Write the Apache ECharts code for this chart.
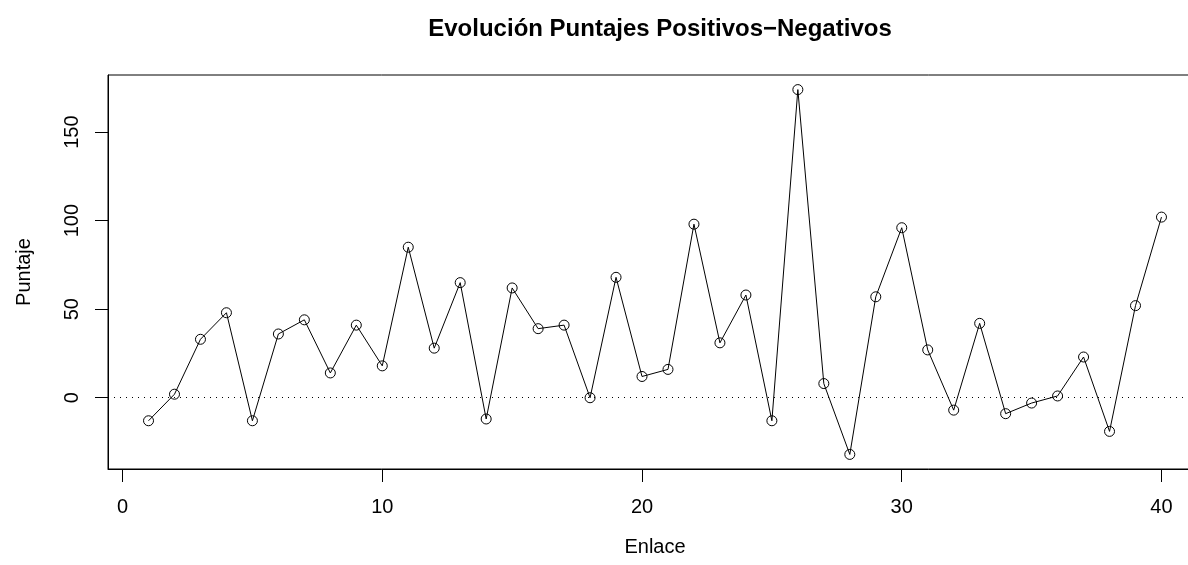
<!DOCTYPE html>
<html>
<head>
<meta charset="utf-8">
<title>Evolución Puntajes Positivos−Negativos</title>
<script src="https://cdn.jsdelivr.net/npm/echarts@6/dist/echarts.min.js"></script>
<style>
  html, body { margin: 0; padding: 0; background: #fff; overflow: hidden; }
  /* the plot box runs a little past the right edge of the window */
  #chart { width: 1202px; height: 565px; }
</style>
</head>
<body>
<div id="chart"></div>
<script>
// Link index (Enlace) and its positive-minus-negative score (Puntaje)
const enlace = [1, 2, 3, 4, 5, 6, 7, 8, 9, 10,
                11, 12, 13, 14, 15, 16, 17, 18, 19, 20,
                21, 22, 23, 24, 25, 26, 27, 28, 29, 30,
                31, 32, 33, 34, 35, 36, 37, 38, 39, 40];
const puntaje = [-13, 2, 33, 48, -13, 36, 44, 14, 41, 18,
                 85, 28, 65, -12, 62, 39, 41, 0, 68, 12,
                 16, 98, 31, 58, -13, 174, 8, -32, 57, 96,
                 27, -7, 42, -9, -3, 1, 23, -19, 52, 102];
const xTicks = [0, 10, 20, 30, 40];
const yTicks = [0, 50, 100, 150];

// Axis limits padded by 4% of the data range on each side
function padded(values) {
  const lo = Math.min(...values), hi = Math.max(...values);
  const pad = (hi - lo) * 0.04;
  return [lo - pad, hi + pad];
}
const [xMin, xMax] = padded(enlace);
const [yMin, yMax] = padded(puntaje);

const FONT = "'Liberation Sans', Arial, Helvetica, sans-serif";
const chart = echarts.init(document.getElementById('chart'), null, { renderer: 'canvas' });

chart.setOption({
  animation: false,
  backgroundColor: '#ffffff',
  title: {
    text: 'Evolución Puntajes Positivos−Negativos',
    left: 655,
    textAlign: 'center',
    top: 12,
    textStyle: { fontFamily: FONT, fontSize: 24, fontWeight: 'bold', color: '#000' }
  },
  grid: {
    left: 108, top: 75, bottom: 96, right: 0,
    containLabel: false,
    show: true, borderColor: '#000', borderWidth: 1, backgroundColor: 'transparent'
  },
  xAxis: {
    type: 'value',
    min: xMin, max: xMax,
    name: 'Enlace',
    nameLocation: 'middle',
    nameGap: 68,
    nameTextStyle: { fontFamily: FONT, fontSize: 20, color: '#000' },
    axisLine: { show: true, onZero: false, lineStyle: { color: '#000', width: 1 } },
    axisTick: { show: true, inside: false, length: 13, customValues: xTicks, lineStyle: { color: '#000' } },
    axisLabel: { show: true, margin: 28, customValues: xTicks, fontFamily: FONT, fontSize: 20, color: '#000' },
    splitLine: { show: false }
  },
  yAxis: {
    type: 'value',
    min: yMin, max: yMax,
    name: 'Puntaje',
    nameLocation: 'middle',
    nameGap: 74,
    nameRotate: 90,
    nameTextStyle: { fontFamily: FONT, fontSize: 20, color: '#000' },
    axisLine: { show: true, onZero: false, lineStyle: { color: '#000', width: 1 } },
    axisTick: { show: true, inside: false, length: 13, customValues: yTicks, lineStyle: { color: '#000' } },
    axisLabel: { show: true, rotate: 90, margin: 26, customValues: yTicks, fontFamily: FONT, fontSize: 20, color: '#000' },
    splitLine: { show: false }
  },
  series: [{
    type: 'line',
    data: enlace.map((x, i) => [x, puntaje[i]]),
    symbol: 'circle',
    symbolSize: 10,
    showAllSymbol: true,
    lineStyle: { color: '#000', width: 1 },
    itemStyle: { color: 'rgba(0,0,0,0)', borderColor: '#000', borderWidth: 1 },
    emphasis: { disabled: true },
    markLine: {
      silent: true,
      symbol: 'none',
      label: { show: false },
      lineStyle: { color: '#000', width: 1, type: [1, 5] },
      data: [{ yAxis: 0 }]
    },
    z: 3
  }]
});
</script>
</body>
</html>
